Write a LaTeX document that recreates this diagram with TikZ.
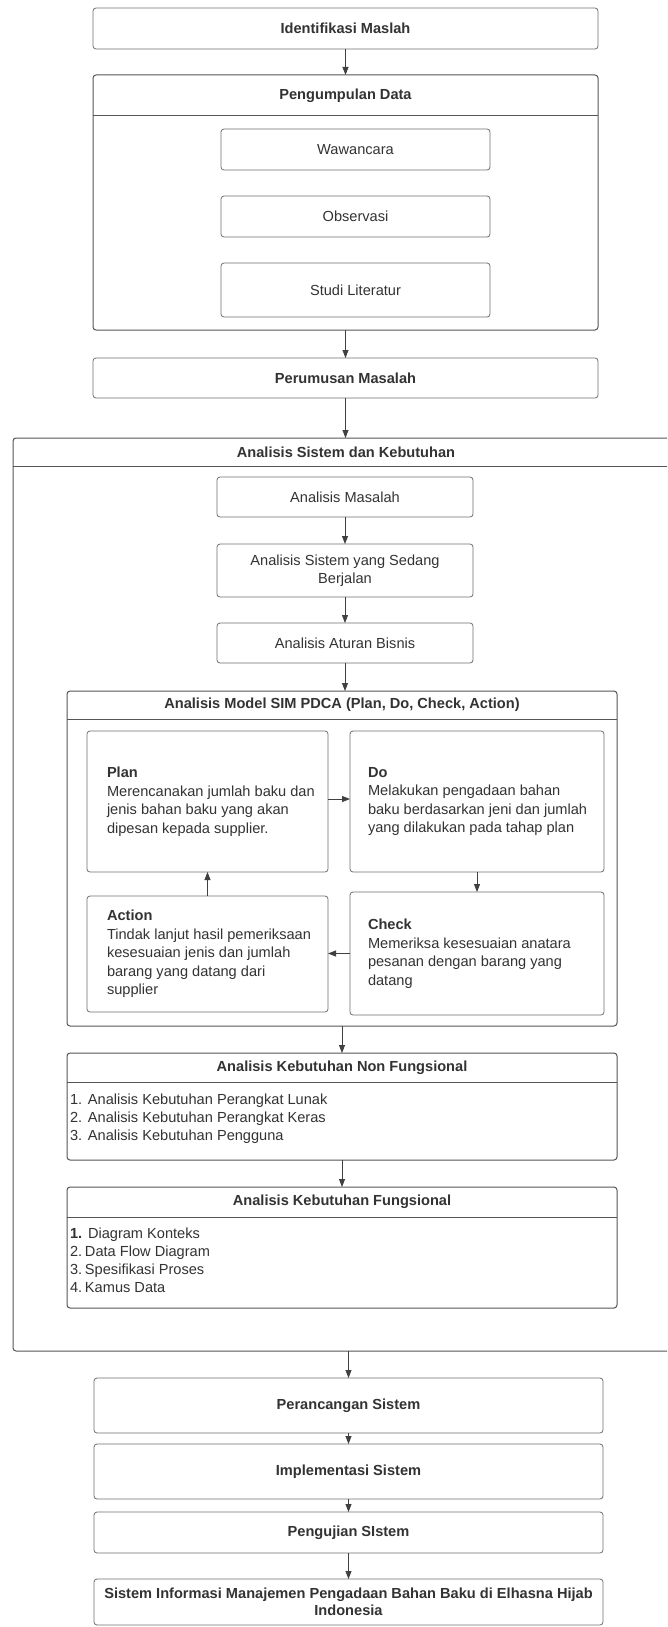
\documentclass[tikz,border=0pt]{standalone}
\usepackage{fontspec}
\setmainfont{Liberation Sans}
\usetikzlibrary{positioning,arrows.meta}
\definecolor{linegray}{HTML}{707070}
\definecolor{framegray}{HTML}{555555}
\definecolor{textgray}{HTML}{333333}

\begin{document}
\begin{tikzpicture}[x=1pt, y=1pt,
        every node/.style={outer sep=0pt, text=textgray},
        stage/.style={draw=linegray, line width=0.8pt, rounded corners=3pt, fill=white, align=center, font=\fontsize{14.6}{17.5}\selectfont\bfseries},
        subbox/.style={draw=linegray, line width=0.8pt, rounded corners=3pt, fill=white, align=center, font=\fontsize{14.6}{18}\selectfont},
        panel/.style={draw=framegray, line width=1pt, rounded corners=3pt},
        headline/.style={draw=framegray, line width=1pt},
        head/.style={align=center, inner sep=0pt, font=\fontsize{14.6}{17.5}\selectfont\bfseries},
        cardtext/.style={align=left, inner sep=0pt, font=\fontsize{14.6}{18.5}\selectfont},
        listtext/.style={align=left, inner sep=0pt, font=\fontsize{14.6}{18}\selectfont},
        arrow/.style={draw=black!75, line width=0.8pt, -{Triangle[length=8pt,width=6pt]}}
    ]
        \clip (0,0) rectangle (667,-1627);
        \fill[white] (0,0) rectangle (667,-1627);

        % tahap awal
        \node[stage, minimum width=505pt, minimum height=41pt] (ident) at (345.5,-28.5) {Identifikasi Maslah};
        \node[panel, minimum width=505pt, minimum height=255pt, below=26pt of ident] (kumpul) {};
        \node[head, minimum width=505pt, minimum height=41pt, below=0pt of kumpul.north] (kumpulhead) {Pengumpulan Data};
        \draw[headline] (kumpulhead.south -| kumpul.west) -- (kumpulhead.south -| kumpul.east);
        \node[subbox, minimum width=269pt, minimum height=41pt] (wawancara) at (355.5,-149.5) {Wawancara};
        \node[subbox, minimum width=269pt, minimum height=41pt, below=26pt of wawancara] (observasi) {Observasi};
        \node[subbox, minimum width=269pt, minimum height=54pt, below=26pt of observasi] (studi) {Studi Literatur};
        \node[stage, minimum width=505pt, minimum height=40pt, below=28pt of kumpul] (rumus) {Perumusan Masalah};

        % analisis sistem dan kebutuhan
        \node[panel, minimum width=666pt, minimum height=913pt] (analisis) at (346,-894.5) {};
        \node[head, minimum width=666pt, minimum height=28pt, below=0pt of analisis.north] (analisishead) {Analisis Sistem dan Kebutuhan};
        \draw[headline] (analisishead.south -| analisis.west) -- (analisishead.south -| analisis.east);
        \node[subbox, minimum width=256pt, minimum height=40pt] (masalah) at (345,-497) {Analisis Masalah};
        \node[subbox, minimum width=256pt, minimum height=53pt, below=27pt of masalah] (berjalan) {Analisis Sistem yang Sedang\\Berjalan};
        \node[subbox, minimum width=256pt, minimum height=40pt, below=26pt of berjalan] (aturan) {Analisis Aturan Bisnis};

        % model PDCA
        \node[panel, minimum width=550pt, minimum height=335pt, below=28pt of aturan, xshift=-3pt] (pdca) {};
        \node[head, minimum width=550pt, minimum height=28pt, below=0pt of pdca.north] (pdcahead) {Analisis Model SIM PDCA (Plan, Do, Check, Action)};
        \draw[headline] (pdcahead.south -| pdca.west) -- (pdcahead.south -| pdca.east);
        \node[subbox, minimum width=241pt, minimum height=141pt] (plan) at (207.5,-801.5) {};
        \node[subbox, minimum width=254pt, minimum height=141pt] (do) at (477,-801.5) {};
        \node[subbox, minimum width=241pt, minimum height=116pt] (action) at (207.5,-954) {};
        \node[subbox, minimum width=254pt, minimum height=123pt] (check) at (477,-953.5) {};
        \node[cardtext, right=20pt of plan.west] (plantext) {\textbf{Plan}\\Merencanakan jumlah baku dan\\jenis bahan baku yang akan\\dipesan kepada supplier.};
        \node[cardtext, right=18pt of do.west] (dotext) {\textbf{Do}\\Melakukan pengadaan bahan\\baku berdasarkan jeni dan jumlah\\yang dilakukan pada tahap plan};
        \node[cardtext, right=20pt of action.west] (actiontext) {\textbf{Action}\\Tindak lanjut hasil pemeriksaan\\kesesuaian jenis dan jumlah\\barang yang datang dari\\supplier};
        \node[cardtext, right=18pt of check.west] (checktext) {\textbf{Check}\\Memeriksa kesesuaian anatara\\pesanan dengan barang yang\\datang};

        % kebutuhan
        \node[panel, minimum width=550pt, minimum height=107pt, below=27pt of pdca] (nonf) {};
        \node[head, minimum width=550pt, minimum height=29pt, below=0pt of nonf.north] (nonfhead) {Analisis Kebutuhan Non Fungsional};
        \draw[headline] (nonfhead.south -| nonf.west) -- (nonfhead.south -| nonf.east);
        \node[listtext, below right=11.5pt and 3pt of nonfhead.south west] (nonflist) {\makebox[18pt][l]{1.}Analisis Kebutuhan Perangkat Lunak\\\makebox[18pt][l]{2.}Analisis Kebutuhan Perangkat Keras\\\makebox[18pt][l]{3.}Analisis Kebutuhan Pengguna};
        \node[panel, minimum width=550pt, minimum height=121pt, below=27pt of nonf] (fung) {};
        \node[head, minimum width=550pt, minimum height=30pt, below=0pt of fung.north] (funghead) {Analisis Kebutuhan Fungsional};
        \draw[headline] (funghead.south -| fung.west) -- (funghead.south -| fung.east);
        \node[listtext, below right=10.5pt and 3pt of funghead.south west] (funglist) {\makebox[18pt][l]{\textbf{1.}}Diagram Konteks\\\makebox[15pt][l]{2.}Data Flow Diagram\\\makebox[15pt][l]{3.}Spesifikasi Proses\\\makebox[15pt][l]{4.}Kamus Data};

        % tahap akhir
        \node[stage, minimum width=509pt, minimum height=55pt] (rancang) at (348.5,-1405.5) {Perancangan Sistem};
        \node[stage, minimum width=509pt, minimum height=55pt, below=11pt of rancang] (implementasi) {Implementasi Sistem};
        \node[stage, minimum width=509pt, minimum height=41pt, below=13pt of implementasi] (uji) {Pengujian SIstem};
        \node[stage, minimum width=509pt, minimum height=46pt, inner xsep=2pt, below=26pt of uji] (hasil) {Sistem Informasi Manajemen Pengadaan Bahan Baku di Elhasna Hijab\\Indonesia};

        \draw[arrow] (ident) -- (kumpul);
        \draw[arrow] (kumpul) -- (rumus);
        \draw[arrow] (rumus.south) -- (rumus.south |- analisis.north);
        \draw[arrow] (masalah) -- (berjalan);
        \draw[arrow] (berjalan) -- (aturan);
        \draw[arrow] (aturan.south) -- (aturan.south |- pdca.north);
        \draw[arrow] (plan.east |- 0,-799) -- (do.west |- 0,-799);
        \draw[arrow] (do) -- (check);
        \draw[arrow] (check.west) -- (check.west -| action.east);
        \draw[arrow] (action) -- (plan);
        \draw[arrow] (pdca) -- (nonf);
        \draw[arrow] (nonf) -- (fung);
        \draw[arrow] (rancang.north |- analisis.south) -- (rancang.north);
        \draw[arrow] (rancang) -- (implementasi);
        \draw[arrow] (implementasi) -- (uji);
        \draw[arrow] (uji) -- (hasil);
    \end{tikzpicture}
\end{document}
